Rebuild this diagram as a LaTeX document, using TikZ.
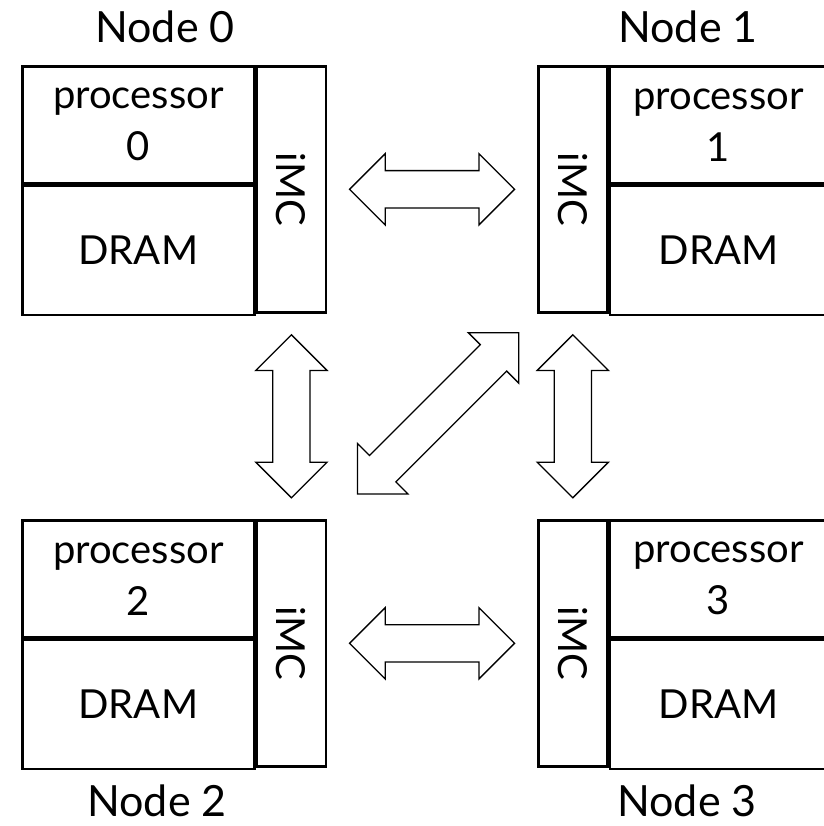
\documentclass[tikz,border=0pt]{standalone}
\usepackage{fontspec}
\setmainfont{Lato}
\usepackage{graphicx}
\usetikzlibrary{positioning,calc,shapes.arrows}

\begin{document}
\begin{tikzpicture}[
	x=1pt, y=-1pt,
	node distance = 0pt,
	cell/.style = {rectangle, draw, line width=2.6pt, inner sep=0pt,
		align=center, font=\fontsize{40}{52}\selectfont},
	procbox/.style = {cell, minimum height=117},
	drambox/.style = {cell, minimum height=129},
	imcbox/.style = {cell, minimum width=69, minimum height=246},
	nodelabel/.style = {anchor=base, inner sep=0pt, font=\fontsize{43}{52}\selectfont},
	biarrow/.style = {double arrow, draw, line width=1.3pt,
		inner xsep=0pt, inner ysep=18pt, double arrow head extend=17,
		double arrow tip angle=90, minimum height=165},
	]
	\useasboundingbox (0,0) rectangle (823,826);

	% node 0
	\node[procbox, minimum width=232, anchor=north west] (proc0) at (21,65) {processor\\0};
	\node[drambox, minimum width=232, below=of proc0] (dram0) {DRAM};
	\node[imcbox, anchor=north west] (imc0) at (proc0.north east) {\rotatebox{-90}{iMC}};

	% node 1
	\node[imcbox, anchor=north west] (imc1) at (537,65) {\rotatebox{-90}{iMC}};
	\node[procbox, minimum width=217, anchor=north west] (proc1) at (imc1.north east) {processor\\1};
	\node[drambox, minimum width=217, below=of proc1] (dram1) {DRAM};

	% node 2
	\node[procbox, minimum width=232, anchor=north west] (proc2) at (21,519) {processor\\2};
	\node[drambox, minimum width=232, below=of proc2] (dram2) {DRAM};
	\node[imcbox, anchor=north west] (imc2) at (proc2.north east) {\rotatebox{-90}{iMC}};

	% node 3
	\node[imcbox, anchor=north west] (imc3) at (537,519) {\rotatebox{-90}{iMC}};
	\node[procbox, minimum width=217, anchor=north west] (proc3) at (imc3.north east) {processor\\3};
	\node[drambox, minimum width=217, below=of proc3] (dram3) {DRAM};

	\node[nodelabel] (lbl0) at (165,43) {Node 0};
	\node[nodelabel] (lbl1) at (688,43) {Node 1};
	\node[nodelabel] (lbl2) at (157,816) {Node 2};
	\node[nodelabel] (lbl3) at (687,816) {Node 3};

	% links
	\node[biarrow] (a01) at ($(imc0.east)!0.5!(imc1.west)$) {};
	\node[biarrow] (a23) at ($(imc2.east)!0.5!(imc3.west)$) {};
	\node[biarrow, rotate=90, minimum height=163] (a02) at ($(imc0.south)!0.5!(imc2.north)$) {};
	\node[biarrow, rotate=90, minimum height=163] (a13) at ($(imc1.south)!0.5!(imc3.north)$) {};
	\node[biarrow, rotate=45, minimum height=228] (a12) at ($(imc1.south west)!0.5!(imc2.north east)+(6,-3)$) {};
\end{tikzpicture}
\end{document}
